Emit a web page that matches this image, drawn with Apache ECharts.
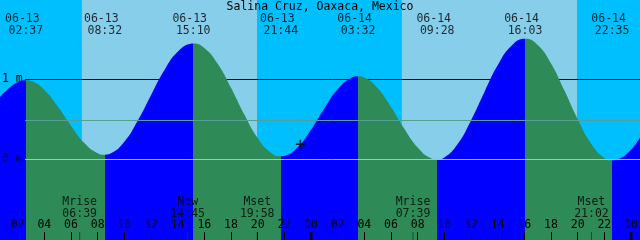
<!DOCTYPE html>
<html><head><meta charset="utf-8">
<script src="https://cdn.jsdelivr.net/npm/echarts@6/dist/echarts.min.js"></script>
<style>html,body{margin:0;padding:0;background:#00bfff}#c{width:640px;height:240px}</style>
</head><body><div id="c"></div>
<script>
// ---------- data ----------
const titleText = 'Salina Cruz, Oaxaca, Mexico';
const viewStartHour = 0.675;      // 06-13 00:40
const viewSpanHours = 48;
const tideEventTimes = ['06-13 02:37','06-13 08:32','06-13 15:10','06-13 21:44','06-14 03:32','06-14 09:28','06-14 16:03','06-14 22:35'];
const tideEventKinds = ['H','L','H','L','H','L','H','L'];
const curveHours = [0.675,1,2,2.617,3,4,5,6,7,8,8.533,9,10,11,12,13,14,15,15.167,16,17,18,19,20,21,21.733,22,23,24,25,26,27,27.533,28,29,30,31,32,33,33.467,34,35,36,37,38,39,40.05,41,42,43,44,45,46,46.583,47,48,48.675];
const curveHeights = [0.78,0.839,0.967,0.99,0.98,0.87,0.665,0.421,0.205,0.079,0.06,0.077,0.221,0.483,0.804,1.115,1.346,1.448,1.45,1.395,1.196,0.896,0.562,0.269,0.083,0.04,0.045,0.153,0.372,0.639,0.877,1.019,1.04,1.024,0.891,0.656,0.384,0.15,0.016,0.0,0.024,0.193,0.488,0.842,1.177,1.416,1.51,1.432,1.2,0.865,0.505,0.201,0.02,-0.01,0.002,0.123,0.275];
const sunriseTimes = ['06-13 06:49','06-14 06:49'];
const sunsetTimes = ['06-13 19:57','06-14 19:57'];
const moonEventNames = ['Mrise','New','Mset','Mrise','Mset'];
const moonEventTimes = ['06-13 06:39','06-13 14:45','06-13 19:58','06-14 07:39','06-14 21:02'];
const hourTicks = [2,4,6,8,10,12,14,16,18,20,22,24,26,28,30,32,34,36,38,40,42,44,46,48];
const midnightTicks = [24,48];
const levelTicks = [0,1];
const meanLevel = 0.4875;
const nowMarkTime = '06-13 23:12';
const nowMarkHeight = 0.19;
const yMax = 1.99375, yMin = -1.00625;

// ---------- helpers ----------
function toHours(s){
  const [d,t] = s.split(' ');
  const day = parseInt(d.split('-')[1],10) - 13;
  const [h,m] = t.split(':').map(Number);
  return day*24 + h + m/60;
}
const FONT = 'DejaVu Sans Mono';
const FS = 11.5;
const RISE = '#0000ff', FALL = '#2e8b57';
const tMin = viewStartHour, tMax = viewStartHour + viewSpanHours;
const lineStart = tMin + 25 * viewSpanHours / 640;

const ev = tideEventTimes.map(toHours);
const pieces = [];
pieces.push({lt: ev[0], color: tideEventKinds[0]==='H' ? RISE : FALL});
for (let i=0;i<ev.length-1;i++) pieces.push({gte: ev[i], lt: ev[i+1], color: tideEventKinds[i]==='H' ? FALL : RISE});
pieces.push({gte: ev[ev.length-1], color: tideEventKinds[ev.length-1]==='H' ? FALL : RISE});

const curve = curveHours.map((h,i)=>[h, curveHeights[i]]);
const dayAreas = sunriseTimes.map((s,i)=>[{xAxis: toHours(s)},{xAxis: toHours(sunsetTimes[i])}]);

function hline(level, color, z){
  return {type:'line', silent:true, z:z, symbol:'none', animation:false,
    data:[[lineStart, level],[tMax, level]], lineStyle:{color:color, width:1}};
}
const pad = n => (n<10?'0':'')+n;

const option = {
  animation:false,
  backgroundColor:'#00bfff',
  title:{text:titleText, left:'center', top:0, padding:[1,0,0,0],
    textStyle:{fontFamily:FONT, fontSize:FS, fontWeight:'normal', color:'#000', lineHeight:12}},
  grid:{left:0,right:0,top:0,bottom:0, containLabel:false, outerBoundsMode:'none'},
  xAxis:{type:'value', min:tMin, max:tMax, z:10,
    axisLine:{show:false, onZero:false}, splitLine:{show:false},
    axisTick:{show:true, inside:true, length:8, customValues:hourTicks, lineStyle:{color:'#000',width:1}},
    axisLabel:{show:true, inside:true, margin:9, customValues:hourTicks,
      formatter:v=>pad(Math.round(v)%24), fontFamily:FONT, fontSize:FS, color:'#000'}},
  yAxis:{type:'value', min:yMin, max:yMax, z:10,
    axisLine:{show:false, onZero:false}, axisTick:{show:false}, splitLine:{show:false},
    axisLabel:{show:true, inside:true, margin:2, customValues:levelTicks, padding:[5,0,0,0],
      formatter:v=>v+' m', fontFamily:FONT, fontSize:FS, color:'#000'}},
  visualMap:{type:'piecewise', show:false, dimension:0, seriesIndex:1, pieces:pieces},
  series:[
    hline(1, '#000', 2),
    {type:'line', z:3, data:curve, smooth:0.5, symbol:'none', silent:true,
      lineStyle:{width:0}, areaStyle:{opacity:1, origin:'start'},
      markArea:{z:1, silent:true, itemStyle:{color:'#87ceeb'}, data:dayAreas}},
    hline(meanLevel, '#55a095', 4),
    hline(0, '#80d0e0', 4),
    {type:'scatter', z:5, clip:false, silent:true, symbolSize:1, itemStyle:{color:'rgba(0,0,0,0)'},
      data: tideEventTimes.map(s=>({value:[toHours(s), yMax], name:s})),
      label:{show:true, position:'bottom', distance:12.5, fontFamily:FONT, fontSize:FS, color:'#000',
        formatter:p=>{const [d,t]=p.name.split(' '); return '{d|'+d+'}\n{t|'+t+'}';},
        rich:{d:{fontFamily:FONT,fontSize:FS,color:'#000',lineHeight:12,padding:[0,7,0,0]},
              t:{fontFamily:FONT,fontSize:FS,color:'#000',lineHeight:12}}}},
    {type:'scatter', z:5, clip:false, silent:true, symbol:'rect', symbolSize:[1,8], symbolOffset:[0,-4],
      itemStyle:{color:'#1a3a2a'},
      data: moonEventTimes.map((s,i)=>({value:[toHours(s), yMin], name:moonEventNames[i]+'\n'+s.split(' ')[1]})),
      label:{show:true, position:'top', distance:12.5, fontFamily:FONT, fontSize:FS, color:'#000', lineHeight:11.5,
        formatter:p=>p.name}},
    {type:'scatter', z:6, clip:false, silent:true, symbol:'rect', symbolSize:[3,8], symbolOffset:[0,-4],
      itemStyle:{color:'#000'}, data: midnightTicks.map(h=>[h, yMin])},
    {type:'scatter', z:6, clip:false, silent:true,
      symbol:'path://M3.7,0H5.3V3.7H9V5.3H5.3V9H3.7V5.3H0V3.7H3.7Z', symbolSize:9,
      itemStyle:{color:'#000'}, data:[[toHours(nowMarkTime), nowMarkHeight]]}
  ]
};
const chart = echarts.init(document.getElementById('c'), null, {renderer:'canvas'});
chart.setOption(option);
</script></body></html>
